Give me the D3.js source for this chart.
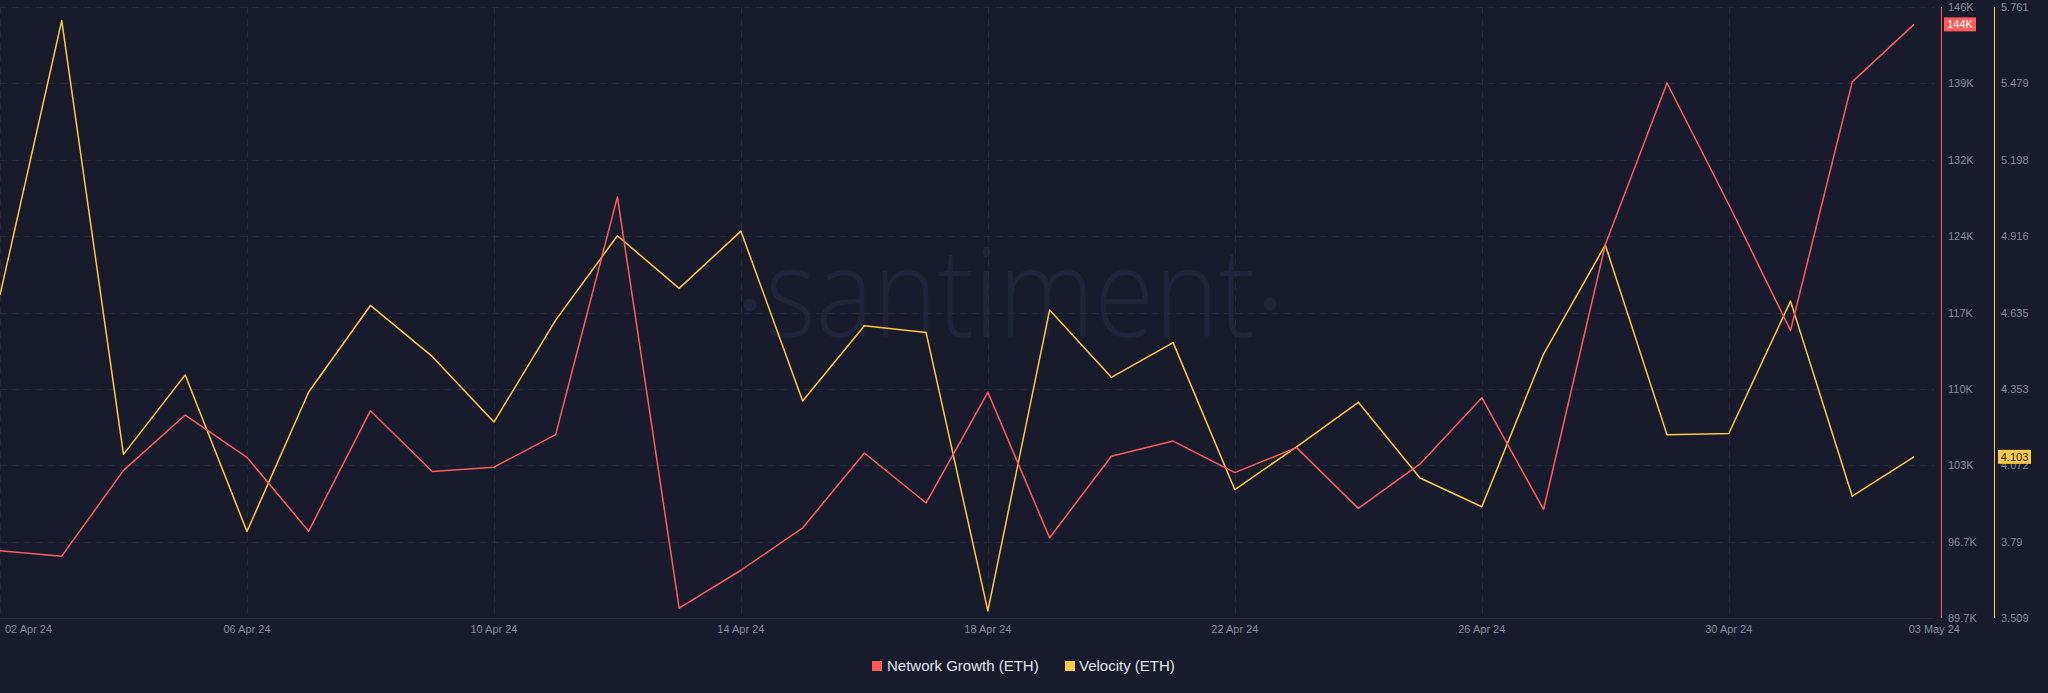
<!DOCTYPE html>
<html>
<head>
<meta charset="utf-8">
<script src="https://cdn.jsdelivr.net/npm/d3@7"></script>
<style>
  html, body { margin: 0; padding: 0; background: #181b2b; }
  svg { display: block; }
</style>
</head>
<body>
<svg></svg>
<script>
// daily dates, 02 Apr 24 .. 03 May 24
const dates = d3.utcDay.range(new Date(Date.UTC(2024, 3, 2)), new Date(Date.UTC(2024, 4, 4)))

const networkGrowth = [95.9, 95.4, 103.3, 108.4, 104.5, 97.7, 108.8, 103.2, 103.6, 106.6,
      128.5, 90.6, 94.1, 98.0, 104.9, 100.3, 110.5, 97.1, 104.6, 106.0,
      103.1, 105.4, 99.8, 103.9, 110.0, 99.7, 124.1, 139.0, 127.8, 116.2,
      139.1, 144.4]

const velocity = [4.699, 5.711, 4.112, 4.405, 3.828, 4.342, 4.661, 4.473, 4.231, 4.607,
      4.918, 4.724, 4.935, 4.309, 4.586, 4.561, 3.535, 4.644, 4.396, 4.524,
      3.982, 4.140, 4.304, 4.025, 3.919, 4.482, 4.884, 4.184, 4.189, 4.677,
      3.958, 4.103]

const redDomain = [89.7, 146]
const yellowDomain = [3.509, 5.761]
const redTickLabels = ["89.7K", "96.7K", "103K", "110K", "117K", "124K", "132K", "139K", "146K"]
const yellowTickLabels = ["3.509", "3.79", "4.072", "4.353", "4.635", "4.916", "5.198", "5.479", "5.761"]
const xTickDates = ["2024-04-02", "2024-04-06", "2024-04-10", "2024-04-14", "2024-04-18",
      "2024-04-22", "2024-04-26", "2024-04-30", "2024-05-03"].map(d => new Date(d + "T00:00:00Z"))

const width = 2048
const height = 693
const red = "#ff5b5b"
const yellow = "#ffc940"
const gridColor = "#252939"
const labelColor = "#858a9c"
const font = "'Liberation Sans', Arial, sans-serif"

const plotTop = 7, plotBottom = 618, gridRight = 1934

const x = d3.scaleUtc().domain([dates[0], dates[dates.length - 1]]).range([0, 1914])
const yRed = d3.scaleLinear().domain(redDomain).range([plotBottom, plotTop])
const yYellow = d3.scaleLinear().domain(yellowDomain).range([plotBottom, plotTop])

const redTicks = redTickLabels.map((t, i) => ({ label: t, v: redDomain[0] + i * (redDomain[1] - redDomain[0]) / 8 }))
const yellowTicks = yellowTickLabels.map((t, i) => ({ label: t, v: yellowDomain[0] + i * (yellowDomain[1] - yellowDomain[0]) / 8 }))

const svg = d3.select("svg")
      .attr("width", width)
      .attr("height", height)

svg.append("rect")
      .attr("width", width)
      .attr("height", height)
      .attr("fill", "#181b2b")

// watermark
const wm = svg.append("g").attr("fill", "#20243a")
wm.append("text")
      .attr("x", 1010)
      .attr("y", 337)
      .attr("text-anchor", "middle")
      .attr("font-family", "'Open Sans', sans-serif")
      .attr("font-weight", 300)
      .attr("font-size", 124)
      .attr("textLength", 490)
      .attr("lengthAdjust", "spacingAndGlyphs")
      .text("santiment")
wm.append("circle").attr("cx", 750).attr("cy", 305).attr("r", 6.5)
wm.append("circle").attr("cx", 1270).attr("cy", 304).attr("r", 6.5)

// grid
const grid = svg.append("g")
      .attr("stroke", gridColor)
      .attr("stroke-dasharray", "7,5")

grid.selectAll("line.h")
      .data(redTicks)
      .join("line")
      .attr("class", "h")
      .attr("x1", 0)
      .attr("x2", gridRight)
      .attr("y1", d => Math.round(yRed(d.v)) + 0.5)
      .attr("y2", d => Math.round(yRed(d.v)) + 0.5)

grid.selectAll("line.v")
      .data(xTickDates.slice(0, -1))
      .join("line")
      .attr("class", "v")
      .attr("x1", d => Math.round(x(d)) + 0.5)
      .attr("x2", d => Math.round(x(d)) + 0.5)
      .attr("y1", plotTop)
      .attr("y2", plotBottom)

svg.append("line")
      .attr("x1", 0).attr("x2", gridRight)
      .attr("y1", plotBottom + 0.5).attr("y2", plotBottom + 0.5)
      .attr("stroke", gridColor)

// x labels
const fmt = d3.utcFormat("%d %b %y")
svg.append("g")
      .attr("fill", labelColor)
      .attr("font-family", font)
      .attr("font-size", 11)
      .selectAll("text")
      .data(xTickDates)
      .join("text")
      .attr("x", (d, i) => i === 0 ? 5 : i === xTickDates.length - 1 ? 1960 : x(d))
      .attr("y", 633)
      .attr("text-anchor", (d, i) => i === 0 ? "start" : i === xTickDates.length - 1 ? "end" : "middle")
      .text(fmt)

// right axes
svg.append("line")
      .attr("x1", 1941.5).attr("x2", 1941.5)
      .attr("y1", plotTop).attr("y2", plotBottom)
      .attr("stroke", red)
svg.append("line")
      .attr("x1", 1994.5).attr("x2", 1994.5)
      .attr("y1", plotTop).attr("y2", plotBottom)
      .attr("stroke", yellow)

svg.append("g")
      .attr("fill", labelColor)
      .attr("font-family", font)
      .attr("font-size", 11)
      .selectAll("text")
      .data(redTicks)
      .join("text")
      .attr("x", 1948)
      .attr("y", d => yRed(d.v) + 4)
      .text(d => d.label)

svg.append("g")
      .attr("fill", labelColor)
      .attr("font-family", font)
      .attr("font-size", 11)
      .selectAll("text")
      .data(yellowTicks)
      .join("text")
      .attr("x", 2001)
      .attr("y", d => yYellow(d.v) + 4)
      .text(d => d.label)

// lines
const lineRed = d3.line()
      .x((d, i) => x(dates[i]))
      .y(d => yRed(d))
const lineYellow = d3.line()
      .x((d, i) => x(dates[i]))
      .y(d => yYellow(d))

svg.append("path")
      .attr("d", lineYellow(velocity))
      .attr("fill", "none")
      .attr("stroke", yellow)
      .attr("stroke-width", 1.5)
      .attr("stroke-linejoin", "round")

svg.append("path")
      .attr("d", lineRed(networkGrowth))
      .attr("fill", "none")
      .attr("stroke", red)
      .attr("stroke-width", 1.5)
      .attr("stroke-linejoin", "round")

// last value badges
const lastRed = networkGrowth[networkGrowth.length - 1]
const lastYellow = velocity[velocity.length - 1]

const badgeR = svg.append("g").attr("transform", `translate(1944,${yRed(lastRed) - 7})`)
badgeR.append("rect").attr("width", 32).attr("height", 14).attr("fill", red)
badgeR.append("text")
      .attr("x", 16).attr("y", 11)
      .attr("text-anchor", "middle")
      .attr("fill", "#ffffff")
      .attr("font-family", font)
      .attr("font-size", 11)
      .text(d3.format(".0f")(lastRed) + "K")

const badgeY = svg.append("g").attr("transform", `translate(1998,${yYellow(lastYellow) - 7})`)
badgeY.append("rect").attr("width", 33).attr("height", 14).attr("fill", yellow)
badgeY.append("text")
      .attr("x", 16.5).attr("y", 11)
      .attr("text-anchor", "middle")
      .attr("fill", "#181b2b")
      .attr("font-family", font)
      .attr("font-size", 11)
      .text(d3.format(".3f")(lastYellow))

// legend
const legend = svg.append("g")
      .attr("font-family", font)
      .attr("font-size", 15)
      .attr("fill", "#e4e6ee")
legend.append("rect").attr("x", 872).attr("y", 661).attr("width", 10).attr("height", 10).attr("fill", red)
legend.append("text").attr("x", 887).attr("y", 671).text("Network Growth (ETH)")
legend.append("rect").attr("x", 1065).attr("y", 661).attr("width", 10).attr("height", 10).attr("fill", yellow)
legend.append("text").attr("x", 1079).attr("y", 671).text("Velocity (ETH)")
</script>
</body>
</html>
